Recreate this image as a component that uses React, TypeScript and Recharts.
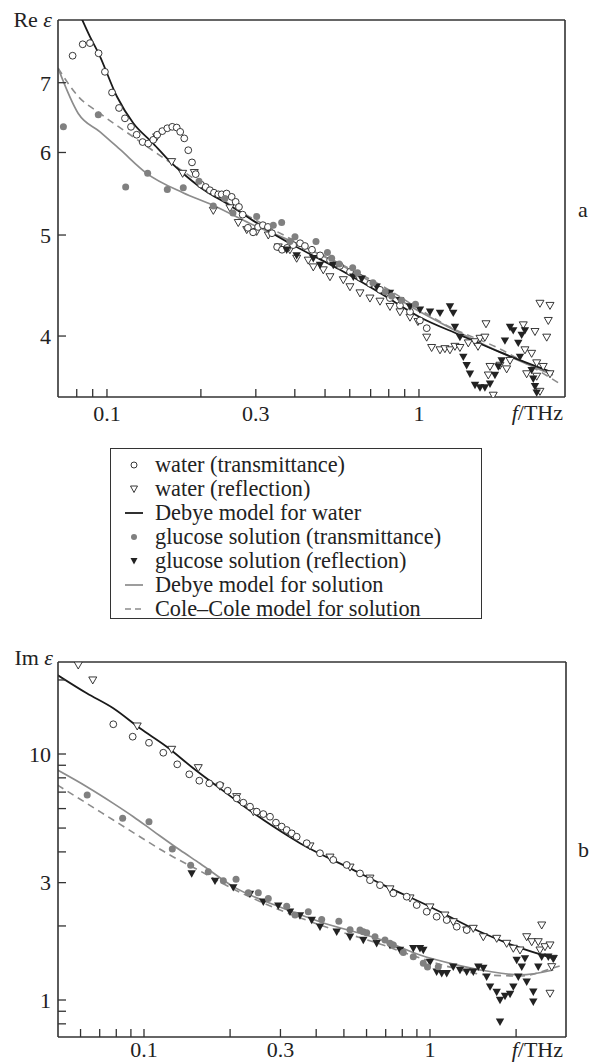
import React from "react";
import { ComposedChart, Scatter, Line, XAxis, YAxis, ReferenceLine } from "recharts";

type Pt = [number, number];

// ---------- panel a: Re epsilon ----------
const waterTransRe: Pt[] = [
  [0.0776, 7.43], [0.0836, 7.62], [0.0882, 7.64], [0.094, 7.47], [0.0985, 7.17], [0.1038, 6.85],
  [0.1093, 6.62], [0.1142, 6.47], [0.1194, 6.35], [0.1245, 6.24], [0.1301, 6.14], [0.1356, 6.12],
  [0.1407, 6.17], [0.1449, 6.24], [0.1504, 6.29], [0.1561, 6.33], [0.1619, 6.35], [0.1673, 6.34],
  [0.1717, 6.28], [0.1769, 6.19], [0.1822, 6.03], [0.1873, 5.87], [0.1925, 5.72], [0.2001, 5.59],
  [0.2072, 5.56], [0.2138, 5.52], [0.2203, 5.49], [0.2274, 5.47], [0.2332, 5.47], [0.2418, 5.48],
  [0.251, 5.44], [0.2585, 5.38], [0.2649, 5.32], [0.2722, 5.23], [0.283, 5.08], [0.294, 5.03],
  [0.305, 5.09], [0.316, 5.11], [0.328, 5.09], [0.338, 5.02], [0.351, 4.87], [0.364, 4.84],
  [0.378, 4.86], [0.395, 4.89], [0.416, 4.91], [0.431, 4.88], [0.454, 4.84], [0.482, 4.78],
  [0.519, 4.73], [0.558, 4.67], [0.601, 4.61], [0.647, 4.55], [0.697, 4.49], [0.75, 4.43],
  [0.807, 4.35], [0.869, 4.28], [0.936, 4.22], [1.007, 4.14], [1.059, 4.07],
];
const waterReflRe: Pt[] = [
  [0.1443, 6.21], [0.1612, 5.88], [0.1748, 5.73], [0.1905, 5.74], [0.2192, 5.28], [0.2478, 5.31],
  [0.2635, 5.14], [0.2805, 5.06], [0.3019, 5.04], [0.3289, 5.0], [0.354, 4.87], [0.3859, 4.84],
  [0.4055, 4.75], [0.4417, 4.73], [0.4584, 4.66], [0.4935, 4.63], [0.5185, 4.56], [0.5721, 4.53],
  [0.6009, 4.46], [0.647, 4.4], [0.6965, 4.35], [0.75, 4.32], [0.8074, 4.27], [0.8692, 4.22],
  [0.9358, 4.17], [0.9926, 4.13], [1.0585, 3.99], [1.098, 3.9], [1.168, 3.88], [1.211, 3.89],
  [1.257, 3.88], [1.304, 3.91], [1.353, 3.9], [1.439, 3.94], [1.512, 3.95], [1.546, 3.91],
  [1.569, 3.98], [1.627, 3.99], [1.64, 4.11], [1.668, 3.67], [1.689, 3.74], [1.73, 3.51],
  [1.818, 3.75], [1.91, 3.72], [1.958, 3.79], [2.159, 4.1], [2.186, 3.88], [2.214, 3.68],
  [2.297, 3.85], [2.354, 4.04], [2.384, 3.77], [2.384, 3.66], [2.442, 4.3], [2.442, 3.54],
  [2.502, 3.74], [2.567, 3.99], [2.597, 4.14], [2.63, 4.28], [2.63, 3.68],
];
const glucTransRe: Pt[] = [
  [0.0725, 6.35], [0.0938, 6.52], [0.1148, 5.56], [0.135, 5.73], [0.1561, 5.53], [0.1756, 5.55],
  [0.1972, 5.63], [0.2192, 5.33], [0.2388, 5.42], [0.2534, 5.25], [0.3019, 5.21], [0.3412, 5.11],
  [0.363, 5.14], [0.3859, 4.93], [0.4005, 4.98], [0.4677, 4.93], [0.5088, 4.81], [0.525, 4.75],
  [0.5553, 4.69], [0.6131, 4.65], [0.6353, 4.6], [0.712, 4.5], [0.7798, 4.41], [0.8176, 4.37],
  [0.8802, 4.33], [0.9745, 4.29],
];
const glucReflRe: Pt[] = [
  [0.3767, 4.84], [0.4055, 4.78], [0.4584, 4.75], [0.4817, 4.68], [0.5313, 4.68], [0.6159, 4.56],
  [0.6553, 4.54], [0.7318, 4.46], [0.8074, 4.4], [0.8692, 4.33], [0.9358, 4.27], [1.0074, 4.24],
  [1.085, 4.22], [1.168, 4.21], [1.257, 4.27], [1.288, 4.21], [1.304, 4.08], [1.353, 3.99],
  [1.387, 3.82], [1.422, 3.75], [1.457, 3.68], [1.512, 3.59], [1.569, 3.57], [1.627, 3.57],
  [1.689, 3.6], [1.752, 3.67], [1.796, 3.74], [1.841, 3.79], [1.886, 3.96], [1.958, 4.08],
  [2.005, 4.05], [2.081, 3.94], [2.107, 3.82], [2.134, 4.01], [2.186, 4.05], [2.297, 3.71],
  [2.324, 3.64], [2.354, 3.58], [2.384, 3.53],
];
const debyeWaterRe: Pt[] = [
  [0.0832, 8.05], [0.0882, 7.75], [0.094, 7.47], [0.1076, 6.79], [0.1215, 6.4], [0.1408, 6.12],
  [0.1594, 5.88], [0.1801, 5.69], [0.2088, 5.5], [0.2421, 5.36], [0.2807, 5.21], [0.3505, 4.99],
  [0.4156, 4.85], [0.5584, 4.63], [0.75, 4.4], [1.0074, 4.17], [1.353, 4.01], [1.818, 3.86],
  [2.689, 3.69],
];
const debyeSolRe: Pt[] = [
  [0.0697, 7.23], [0.0809, 6.54], [0.095, 6.28], [0.1101, 6.04], [0.134, 5.73], [0.1752, 5.49],
  [0.2186, 5.34], [0.2872, 5.13], [0.4156, 4.89], [0.601, 4.63], [1.007, 4.22], [1.569, 3.94],
  [2.689, 3.67],
];
const coleSolRe: Pt[] = [
  [0.0697, 7.23], [0.0809, 6.79], [0.095, 6.54], [0.1215, 6.21], [0.1553, 5.9], [0.1986, 5.61],
  [0.254, 5.32], [0.333, 5.08], [0.4817, 4.8], [0.75, 4.48], [1.257, 4.08], [1.778, 3.9],
  [2.873, 3.59],
];

// ---------- panel b: Im epsilon ----------
const waterTransIm: Pt[] = [
  [0.0781, 13.21], [0.0913, 11.76], [0.1041, 11.11], [0.1168, 10.12], [0.1307, 9.08], [0.144, 8.27],
  [0.1561, 7.79], [0.1691, 7.6], [0.1843, 7.48], [0.1962, 7.09], [0.2109, 6.6], [0.2225, 6.34],
  [0.2348, 6.11], [0.2478, 5.83], [0.2613, 5.7], [0.2758, 5.56], [0.2893, 5.26], [0.303, 5.07],
  [0.3155, 4.91], [0.3284, 4.76], [0.3419, 4.61], [0.3706, 4.34], [0.4124, 3.95], [0.459, 3.71],
  [0.5114, 3.54], [0.5692, 3.27], [0.6168, 3.07], [0.6685, 2.93], [0.7444, 2.715], [0.829, 2.63],
  [0.8985, 2.433], [0.9738, 2.285], [1.055, 2.181], [1.144, 2.114], [1.24, 1.986], [1.344, 1.926],
];
const waterReflIm: Pt[] = [
  [0.0589, 23.0], [0.0662, 20.0], [0.0947, 13.0], [0.125, 10.45], [0.1548, 8.8], [0.1843, 7.4],
  [0.2109, 6.71], [0.2411, 5.83], [0.324, 4.73], [0.3806, 4.23], [0.447, 3.81], [0.5253, 3.47],
  [0.6168, 3.13], [0.7246, 2.83], [0.8514, 2.6], [1.0, 2.39], [1.128, 2.215], [1.206, 2.081],
  [1.344, 1.926], [1.417, 1.956], [1.536, 1.808], [1.711, 1.781], [1.854, 1.7], [1.956, 1.623],
  [2.064, 1.597], [2.178, 1.808], [2.268, 1.726], [2.391, 1.726], [2.424, 1.597], [2.458, 2.018],
  [2.524, 1.647], [2.628, 1.674], [2.664, 1.366], [2.628, 1.065], [2.699, 1.477],
];
const glucTransIm: Pt[] = [
  [0.0633, 6.81], [0.0842, 5.48], [0.1041, 5.31], [0.1256, 4.11], [0.1456, 3.53], [0.1678, 3.32],
  [0.1894, 3.05], [0.2098, 3.1], [0.2316, 2.73], [0.251, 2.73], [0.272, 2.585], [0.3155, 2.404],
  [0.3373, 2.215], [0.3754, 2.285], [0.4181, 2.122], [0.48, 2.091], [0.5253, 1.932], [0.5692, 1.926],
  [0.5845, 1.895], [0.6006, 1.877], [0.6422, 1.808], [0.696, 1.753], [0.7246, 1.7], [0.7444, 1.674],
  [0.8065, 1.56], [0.8741, 1.5], [0.9475, 1.41], [0.9801, 1.362], [1.069, 1.366],
];
const glucReflIm: Pt[] = [
  [0.1468, 3.27], [0.1771, 3.05], [0.2052, 2.87], [0.2348, 2.7], [0.2613, 2.51], [0.2948, 2.42],
  [0.324, 2.285], [0.3511, 2.205], [0.3859, 2.114], [0.4124, 1.986], [0.4719, 1.895], [0.5253, 1.808],
  [0.5845, 1.753], [0.651, 1.7], [0.7246, 1.674], [0.7854, 1.597], [0.8741, 1.623], [0.9227, 1.623],
  [0.9475, 1.597], [1.0, 1.427], [1.055, 1.303], [1.099, 1.284], [1.144, 1.284], [1.206, 1.366],
  [1.273, 1.324], [1.344, 1.303], [1.417, 1.303], [1.475, 1.366], [1.536, 1.349], [1.578, 1.244],
  [1.622, 1.133], [1.711, 1.078], [1.757, 1.0], [1.829, 1.038], [1.905, 1.058], [1.956, 1.133],
  [2.036, 1.244], [2.093, 1.366], [2.01, 1.454], [2.148, 1.477], [2.178, 1.187], [2.297, 1.081],
  [2.297, 0.984], [2.391, 1.366], [2.458, 1.5], [2.592, 1.5], [2.699, 1.477], [1.757, 0.816],
];
const debyeWaterIm: Pt[] = [
  [0.0498, 20.95], [0.0631, 17.65], [0.0781, 15.34], [0.0968, 12.72], [0.1201, 10.71], [0.1487, 8.75],
  [0.1843, 7.25], [0.2285, 6.02], [0.2833, 5.07], [0.3511, 4.34], [0.5393, 3.38], [0.6685, 2.98],
  [1.0, 2.395], [1.496, 1.895], [2.01, 1.647], [2.699, 1.477],
];
const debyeSolIm: Pt[] = [
  [0.0498, 8.61], [0.0631, 7.36], [0.0781, 6.3], [0.0918, 5.56], [0.1078, 4.86], [0.1336, 4.07],
  [0.157, 3.59], [0.2052, 2.89], [0.2988, 2.388], [0.4124, 2.081], [0.7057, 1.726], [0.9227, 1.523],
  [1.206, 1.4], [1.578, 1.312], [2.064, 1.264], [2.699, 1.324],
];
const coleSolIm: Pt[] = [
  [0.0498, 7.48], [0.0631, 6.3], [0.0781, 5.39], [0.0968, 4.61], [0.1201, 3.95], [0.157, 3.345],
  [0.2052, 2.827], [0.2988, 2.322], [0.4124, 2.018], [0.6685, 1.689], [0.9227, 1.481], [1.206, 1.349],
  [1.578, 1.264], [2.064, 1.252], [2.699, 1.349], [2.917, 1.388],
];

// ticks
const xTicksRe = [0.08, 0.09, 0.1, 0.2, 0.3, 0.4, 0.5, 0.6, 0.7, 0.8, 0.9, 1];
const xTicksIm = [0.06, 0.07, 0.08, 0.09, 0.1, 0.2, 0.3, 0.4, 0.5, 0.6, 0.7, 0.8, 0.9, 1, 2];
const xLabels = [0.1, 0.3, 1];
const yTicksRe = [4, 5, 6, 7];
const yLabelsRe = [4, 5, 6, 7];
const yTicksIm = [0.8, 0.9, 1, 2, 3, 4, 5, 6, 7, 8, 9, 10, 20];
const yLabelsIm = [1, 3, 10];

const legendItems = [
  "water (transmittance)",
  "water (reflection)",
  "Debye model for water",
  "glucose solution (transmittance)",
  "glucose solution (reflection)",
  "Debye model for solution",
  "Cole\u2013Cole model for solution",
];

const FONT = "'Liberation Serif', 'DejaVu Serif', serif";
const INK = "#222";
const FRAME = "#333";
const GREY = "#808080";
const LINE_GREY = "#8c8c8c";

const pts = (a: Pt[]) => a.map(([f, v]) => ({ f, v }));

const OpenCircle = (p: any) => (
  <circle cx={p.cx} cy={p.cy} r={3.4} fill="#fff" stroke={INK} strokeWidth={0.9} />
);
const OpenTri = (p: any) => (
  <path d={`M${p.cx - 4},${p.cy - 3}L${p.cx + 4},${p.cy - 3}L${p.cx},${p.cy + 4}Z`} fill="#fff" stroke={INK} strokeWidth={0.9} />
);
const GreyDot = (p: any) => <circle cx={p.cx} cy={p.cy} r={3.5} fill={GREY} />;
const BlackTri = (p: any) => (
  <path d={`M${p.cx - 4.2},${p.cy - 3.2}L${p.cx + 4.2},${p.cy - 3.2}L${p.cx},${p.cy + 4.2}Z`} fill={INK} />
);

interface PanelProps {
  marginTop: number;
  marginRight: number;
  xDomain: [number, number];
  yDomain: [number, number];
  xTicks: number[];
  yTicks: number[];
  yLabels: number[];
  xLabelGap: number;
  waterTrans: Pt[];
  waterRefl: Pt[];
  glucTrans: Pt[];
  glucRefl: Pt[];
  debyeWater: Pt[];
  debyeSol: Pt[];
  coleSol: Pt[];
}

function Panel(p: PanelProps) {
  const tickStyle = { fill: INK, fontSize: 22, fontFamily: FONT };
  return (
    <ComposedChart width={590} height={440} margin={{ top: p.marginTop, right: p.marginRight, bottom: 0, left: 0 }}>
      <XAxis
        dataKey="f"
        type="number"
        scale="log"
        domain={p.xDomain}
        allowDataOverflow
        ticks={p.xTicks}
        interval={0}
        tickFormatter={(t: number) => (xLabels.includes(t) ? String(t) : "")}
        tickSize={-8}
        tickMargin={p.xLabelGap}
        height={43}
        axisLine={{ stroke: FRAME, strokeWidth: 1.6 }}
        tickLine={{ stroke: FRAME, strokeWidth: 1.3 }}
        tick={tickStyle}
      />
      <YAxis
        dataKey="v"
        type="number"
        scale="log"
        domain={p.yDomain}
        allowDataOverflow
        ticks={p.yTicks}
        interval={0}
        tickFormatter={(t: number) => (p.yLabels.includes(t) ? String(t) : "")}
        tickSize={-8}
        tickMargin={15}
        width={58}
        axisLine={{ stroke: FRAME, strokeWidth: 1.6 }}
        tickLine={{ stroke: FRAME, strokeWidth: 1.3 }}
        tick={tickStyle}
      />
      <ReferenceLine y={p.yDomain[1]} stroke={FRAME} strokeWidth={1.6} ifOverflow="visible" />
      <ReferenceLine x={p.xDomain[1]} stroke={FRAME} strokeWidth={1.6} ifOverflow="visible" />
      <Scatter data={pts(p.waterRefl)} shape={OpenTri} isAnimationActive={false} />
      <Scatter data={pts(p.waterTrans)} shape={OpenCircle} isAnimationActive={false} />
      <Scatter data={pts(p.glucRefl)} shape={BlackTri} isAnimationActive={false} />
      <Line data={pts(p.coleSol)} dataKey="v" type="monotone" stroke={LINE_GREY} strokeWidth={1.6} strokeDasharray="7 5" dot={false} isAnimationActive={false} />
      <Line data={pts(p.debyeSol)} dataKey="v" type="monotone" stroke={LINE_GREY} strokeWidth={1.7} dot={false} isAnimationActive={false} />
      <Line data={pts(p.debyeWater)} dataKey="v" type="monotone" stroke="#1a1a1a" strokeWidth={1.8} dot={false} isAnimationActive={false} />
      <Scatter data={pts(p.glucTrans)} shape={GreyDot} isAnimationActive={false} />
    </ComposedChart>
  );
}

function LegendIcon({ i }: { i: number }) {
  const cx = 13;
  const cy = 12;
  if (i === 0) return <circle cx={cx} cy={cy} r={3} fill="#fff" stroke={INK} strokeWidth={0.9} />;
  if (i === 1) return <path d={`M${cx - 3.5},${cy - 3}L${cx + 3.5},${cy - 3}L${cx},${cy + 3.5}Z`} fill="#fff" stroke={INK} strokeWidth={0.9} />;
  if (i === 2) return <line x1={4} x2={22} y1={cy} y2={cy} stroke="#1a1a1a" strokeWidth={1.8} />;
  if (i === 3) return <circle cx={cx} cy={cy} r={3} fill={GREY} />;
  if (i === 4) return <path d={`M${cx - 3.5},${cy - 3}L${cx + 3.5},${cy - 3}L${cx},${cy + 3.5}Z`} fill={INK} />;
  if (i === 5) return <line x1={4} x2={22} y1={cy} y2={cy} stroke={LINE_GREY} strokeWidth={1.7} />;
  return <line x1={4} x2={22} y1={cy} y2={cy} stroke={LINE_GREY} strokeWidth={1.6} strokeDasharray="6 4" />;
}

export default function App() {
  return (
    <div style={{ position: "relative", width: 590, height: 1064, overflow: "hidden", background: "#fff", fontFamily: FONT }}>
      <style>{"body{margin:0}"}</style>
      <div style={{ position: "absolute", left: 0, top: 0 }}>
        <Panel
          marginTop={20}
          marginRight={25}
          xDomain={[0.06967, 2.938]}
          yDomain={[3.496, 8.04]}
          xTicks={xTicksRe}
          yTicks={yTicksRe}
          yLabels={yLabelsRe}
          xLabelGap={16}
          waterTrans={waterTransRe}
          waterRefl={waterReflRe}
          glucTrans={glucTransRe}
          glucRefl={glucReflRe}
          debyeWater={debyeWaterRe}
          debyeSol={debyeSolRe}
          coleSol={coleSolRe}
        />
      </div>
      <div style={{ position: "absolute", left: 0, top: 640 }}>
        <Panel
          marginTop={22}
          marginRight={24}
          xDomain={[0.05004, 2.989]}
          yDomain={[0.7073, 23.66]}
          xTicks={xTicksIm}
          yTicks={yTicksIm}
          yLabels={yLabelsIm}
          xLabelGap={12}
          waterTrans={waterTransIm}
          waterRefl={waterReflIm}
          glucTrans={glucTransIm}
          glucRefl={glucReflIm}
          debyeWater={debyeWaterIm}
          debyeSol={debyeSolIm}
          coleSol={coleSolIm}
        />
      </div>
      <div
        style={{
          position: "absolute",
          left: 110,
          top: 448,
          width: 372,
          height: 171,
          border: `1px solid ${FRAME}`,
          boxSizing: "border-box",
        }}
      >
        {legendItems.map((label, i) => (
          <div key={label} style={{ position: "absolute", left: 0, top: 4 + i * 24, height: 24, width: 370 }}>
            <svg width={30} height={24} style={{ position: "absolute", left: 10, top: 0 }}>
              <LegendIcon i={i} />
            </svg>
            <span style={{ position: "absolute", left: 44, top: 0, lineHeight: "24px", fontSize: 22.3, color: INK, whiteSpace: "nowrap" }}>
              {label}
            </span>
          </div>
        ))}
      </div>
      <svg width={590} height={1064} style={{ position: "absolute", left: 0, top: 0, pointerEvents: "none" }}>
        <g fontFamily={FONT} fontSize={22} fill={INK}>
          <text x={52} y={27} textAnchor="end">
            Re <tspan fontStyle="italic">ε</tspan>
          </text>
          <text x={563} y={420} textAnchor="end">
            <tspan fontStyle="italic">f</tspan>/THz
          </text>
          <text x={578} y={217}>a</text>
          <text x={53} y={665} textAnchor="end">
            Im <tspan fontStyle="italic">ε</tspan>
          </text>
          <text x={563} y={1057} textAnchor="end">
            <tspan fontStyle="italic">f</tspan>/THz
          </text>
          <text x={578} y={857}>b</text>
        </g>
      </svg>
    </div>
  );
}
